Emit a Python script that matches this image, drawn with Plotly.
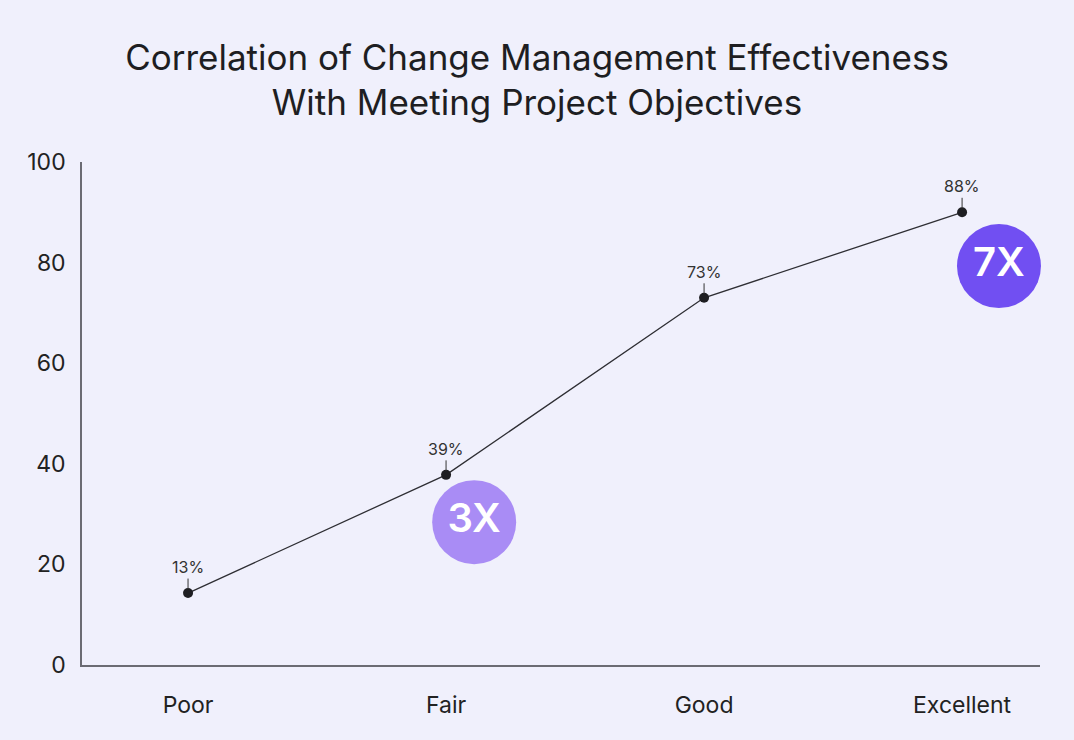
import plotly.graph_objects as go

# values
ratings = ["Poor", "Fair", "Good", "Excellent"]
pct_values = [14.3, 37.8, 73.0, 90.0]
pct_labels = ["13%", "39%", "73%", "88%"]
y_ticks = [0, 20, 40, 60, 80, 100]

badge_text = ["3X", "7X"]
badge_colors = ["#a98cf5", "#714ff2"]

font_family = "Inter, Roboto, sans-serif"
bg = "#f0f0fc"

xpos = list(range(len(ratings)))

fig = go.Figure()

fig.add_trace(go.Scatter(
    x=xpos, y=pct_values,
    mode="lines+markers",
    line=dict(color="#2e2e33", width=1.3),
    marker=dict(color="#1e1e22", size=10),
    cliponaxis=False,
    showlegend=False,
    hoverinfo="skip",
))

# value labels with little tick lines above each point
for xv, val, lab in zip(xpos, pct_values, pct_labels):
    fig.add_annotation(
        x=xv, y=val, text=lab,
        showarrow=True, arrowhead=0, arrowwidth=1, arrowcolor="#333",
        ax=0, ay=-26, standoff=4,
        font=dict(family=font_family, size=16, color="#333"),
    )

# multiplier badges
fig.add_trace(go.Scatter(
    x=[1.109, 3.143], y=[28.4, 79.3],
    mode="markers+text",
    text=badge_text,
    textposition="middle center",
    textfont=dict(family=font_family, size=40, color="white", weight=600),
    marker=dict(size=84, color=badge_colors, line=dict(width=0)),
    cliponaxis=False,
    showlegend=False,
    hoverinfo="skip",
))

fig.update_layout(
    width=1074, height=740,
    paper_bgcolor=bg, plot_bgcolor=bg,
    margin=dict(l=82, r=34, t=162, b=75),
    title=dict(
        text="Correlation of Change Management Effectiveness<br>With Meeting Project Objectives",
        x=0.5, xanchor="center", yref="container", y=0.906, yanchor="middle",
        font=dict(family=font_family, size=35, color="#1e1e22"),
    ),
    font=dict(family=font_family, color="#222"),
    xaxis=dict(
        range=[-0.411, 3.302],
        tickvals=xpos, ticktext=ratings,
        showgrid=False, zeroline=False,
        showline=True, linecolor="#6b6b73", linewidth=1.5,
        ticks="", tickfont=dict(size=23, color="#222"),
        ticklabelstandoff=19,
    ),
    yaxis=dict(
        range=[0, 100],
        tickvals=y_ticks,
        showgrid=False, zeroline=False,
        showline=True, linecolor="#6b6b73", linewidth=1.5,
        ticks="", tickfont=dict(size=23, color="#222"),
        ticklabelstandoff=10,
    ),
)

fig.write_html("out.html", config={"displayModeBar": False},
               post_script="document.body.style.margin='0';")
